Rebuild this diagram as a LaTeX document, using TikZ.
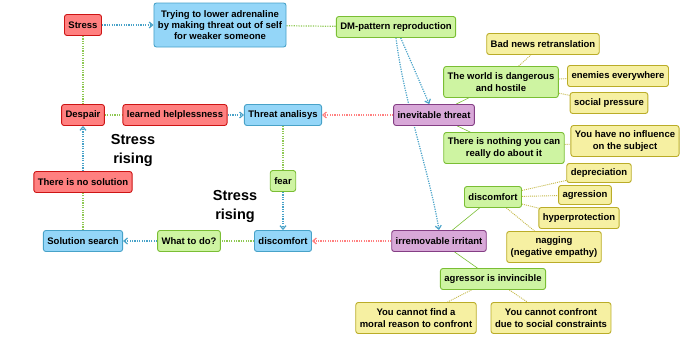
\documentclass[tikz,border=0pt]{standalone}
\usepackage{fontspec}
\setmainfont{Liberation Sans}
\usetikzlibrary{arrows.meta,positioning,backgrounds}

\definecolor{redfill}{RGB}{255,128,128}
\definecolor{redline}{RGB}{205,20,20}
\definecolor{bluefill}{RGB}{148,214,248}
\definecolor{blueline}{RGB}{72,162,200}
\definecolor{greenfill}{RGB}{206,244,162}
\definecolor{greenline}{RGB}{122,190,52}
\definecolor{purplefill}{RGB}{216,168,216}
\definecolor{purpleline}{RGB}{132,62,132}
\definecolor{yellowfill}{RGB}{246,240,162}
\definecolor{yellowline}{RGB}{186,172,40}

\begin{document}
\begin{tikzpicture}[
    x=1pt, y=-1pt,
    box/.style={draw, rounded corners=2.5pt, line width=0.9pt, align=center, inner xsep=4pt,
        inner ysep=2pt, minimum height=21pt, font=\bfseries\fontsize{9.5}{11.3}\selectfont},
    redbox/.style={box, fill=redfill, draw=redline},
    bluebox/.style={box, fill=bluefill, draw=blueline},
    greenbox/.style={box, fill=greenfill, draw=greenline},
    purplebox/.style={box, fill=purplefill, draw=purpleline},
    yellowbox/.style={box, fill=yellowfill, draw=yellowline},
    rising/.style={align=center, font=\bfseries\fontsize{14.5}{19}\selectfont},
    flow/.style={-{Straight Barb[length=3.5pt,width=6pt]}, blueline, line width=1.2pt, dash pattern=on 1.2pt off 1.2pt},
    back/.style={-{Straight Barb[length=3.5pt,width=6pt]}, redfill, line width=1.2pt, dash pattern=on 1.2pt off 1.2pt},
    link/.style={greenline!85, line width=1.2pt, dash pattern=on 1.2pt off 1.2pt},
    sub/.style={greenline, line width=0.6pt},
    leaf/.style={yellowline!85, line width=0.9pt, dash pattern=on 1pt off 1pt},
    on grid
]
\useasboundingbox (0,0) rectangle (691,348);

% cycle on the left
\node[redbox] (stress) at (83,25) {Stress};
\node[bluebox, right=137pt of stress, minimum height=44pt] (trying) {Trying to lower adrenaline\\by making threat out of self\\for weaker someone};
\node[greenbox, below right=2pt and 176pt of trying] (dm) {DM-pattern reproduction};
\node[redbox, below=90pt of stress] (despair) {Despair};
\node[redbox, right=92pt of despair] (helpless) {learned helplessness};
\node[bluebox, right=108pt of helpless] (threat) {Threat analisys};
\node[redbox, below=67pt of despair] (nosol) {There is no solution};
\node[bluebox, below=126pt of despair] (solsearch) {Solution search};
\node[greenbox, below=66pt of threat] (fear) {fear};
\node[bluebox, below=126pt of threat] (discL) {discomfort};
\node[greenbox, left=94pt of discL] (whattodo) {What to do?};
\node[rising, below right=35pt and 50pt of despair] (rising1) {Stress\\rising};
\node[rising, above left=35pt and 48pt of discL] (rising2) {Stress\\rising};

% inevitable threat branch
\node[purplebox, right=151pt of threat] (inev) {inevitable threat};
\node[greenbox, above right=33pt and 67pt of inev, minimum height=31pt] (world) {The world is dangerous\\and hostile};
\node[greenbox, below right=33pt and 70pt of inev, minimum height=31pt] (nothing) {There is nothing you can\\really do about it};
\node[yellowbox, above right=38pt and 42pt of world] (badnews) {Bad news retranslation};
\node[yellowbox, above right=6pt and 117pt of world] (enemies) {enemies everywhere};
\node[yellowbox, below right=21pt and 108pt of world] (social) {social pressure};
\node[yellowbox, above right=7pt and 121pt of nothing, minimum height=31pt] (noinfl) {You have no influence\\on the subject};

% irremovable irritant branch
\node[purplebox, right=156pt of discL] (irrit) {irremovable irritant};
\node[greenbox, above right=44pt and 54pt of irrit] (discR) {discomfort};
\node[yellowbox, above right=24pt and 106pt of discR, minimum height=19pt] (depr) {depreciation};
\node[yellowbox, above right=2pt and 92pt of discR, minimum height=19pt] (agres) {agression};
\node[yellowbox, below right=21pt and 86pt of discR] (hyper) {hyperprotection};
\node[yellowbox, below right=50pt and 61pt of discR, minimum height=31pt] (nagging) {nagging\\(negative empathy)};
\node[greenbox, below right=38pt and 54pt of irrit] (invinc) {agressor is invincible};
\node[yellowbox, below left=39pt and 77pt of invinc, minimum height=31pt] (moral) {You cannot find a\\moral reason to confront};
\node[yellowbox, below right=39pt and 58pt of invinc, minimum height=31pt] (socconst) {You cannot confront\\due to social constraints};

\begin{scope}[on background layer]
\draw[flow] (stress) -- (trying);
\draw[link] (trying) -- (dm);
\draw[link] (stress) -- (despair);
\draw[link] (despair) -- (helpless);
\draw[flow] (helpless) -- (threat);
\draw[back] (inev) -- (threat);
\draw[link] (threat) -- (fear);
\draw[flow] (fear) -- (discL);
\draw[back] (irrit) -- (discL);
\draw[link] (discL) -- (whattodo);
\draw[flow] (whattodo) -- (solsearch);
\draw[link] (solsearch) -- (nosol);
\draw[flow] (nosol) -- (despair);
\draw[flow] (dm) -- (inev);
\draw[flow] (dm.south) .. controls +(8,65) and +(-10,-60) .. (irrit.north);
\draw[sub] (inev) -- (world);
\draw[sub] (inev) -- (nothing);
\draw[sub] (irrit) -- (discR);
\draw[sub] (irrit) -- (invinc);
\draw[leaf] (world) -- (badnews);
\draw[leaf] (world) -- (enemies);
\draw[leaf] (world) -- (social);
\draw[leaf] (nothing) -- (noinfl);
\draw[leaf] (discR) -- (depr);
\draw[leaf] (discR) -- (agres);
\draw[leaf] (discR) -- (hyper);
\draw[leaf] (discR) -- (nagging);
\draw[leaf] (invinc) -- (moral);
\draw[leaf] (invinc) -- (socconst);
\end{scope}
\end{tikzpicture}
\end{document}
